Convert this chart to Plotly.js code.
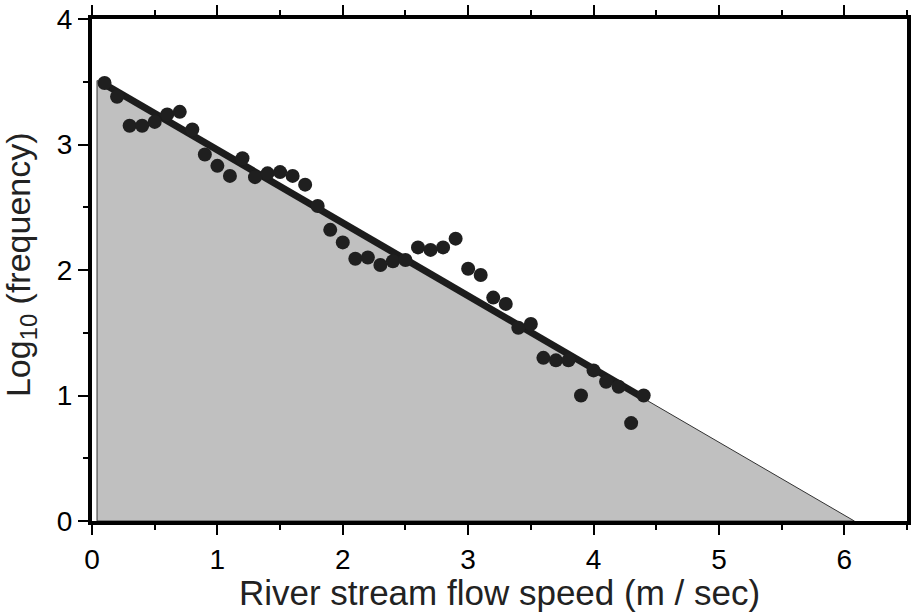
<!DOCTYPE html>
<html>
<head>
<meta charset="utf-8">
<script src="https://cdn.plot.ly/plotly-3.0.1.min.js"></script>
<style>html,body{margin:0;padding:0;background:#fff;}#chart{width:911px;height:612px;}</style>
</head>
<body>
<div id="chart"></div>
<script>
// Observed data: flow speed (m/sec) and log10(frequency)
const speed = [0.1,0.2,0.3,0.4,0.5,0.6,0.7,0.8,0.9,1.0,1.1,1.2,1.3,1.4,1.5,1.6,1.7,1.8,1.9,2.0,2.1,2.2,2.3,2.4,2.5,2.6,2.7,2.8,2.9,3.0,3.1,3.2,3.3,3.4,3.5,3.6,3.7,3.8,3.9,4.0,4.1,4.2,4.3,4.4];
const logFreq = [3.49,3.38,3.15,3.15,3.18,3.24,3.26,3.12,2.92,2.83,2.75,2.89,2.74,2.77,2.78,2.75,2.68,2.51,2.32,2.22,2.09,2.10,2.04,2.07,2.08,2.18,2.16,2.18,2.25,2.01,1.96,1.78,1.73,1.54,1.57,1.30,1.28,1.28,1.00,1.20,1.11,1.07,0.78,1.00];
// Fitted regression line end points
const fitX = [0.1, 4.4];
const fitY = [3.48, 0.98];
// Extrapolated model area (shaded)
const areaX = [0.04, 0.04, 6.08, 0.04];
const areaY = [0, 3.51, 0, 0];

const xTickVals = [0,1,2,3,4,5,6];
const yTickVals = [0,1,2,3,4];

const font = "Liberation Sans, Arial, Helvetica, sans-serif";

const traces = [
  {x: areaX, y: areaY, type: 'scatter', mode: 'lines', fill: 'toself',
   fillcolor: '#c0c0c0', line: {color: '#333', width: 1}, hoverinfo: 'skip'},
  {x: fitX, y: fitY, type: 'scatter', mode: 'lines',
   line: {color: '#1c1c1c', width: 7}},
  {x: speed, y: logFreq, type: 'scatter', mode: 'markers',
   marker: {color: '#1f1f1f', size: 14, line: {width: 0}}}
];

function axisBase() {
  return {
    showgrid: false, zeroline: false,
    showline: true, linecolor: '#000', linewidth: 4, mirror: 'allticks',
    ticks: 'outside', ticklen: 10, tickwidth: 2, tickcolor: '#000',
    tickfont: {family: font, size: 28, color: '#000'},
    minor: {ticks: 'outside', ticklen: 5, tickwidth: 2, tickcolor: '#000', dtick: 0.5, showgrid: false}
  };
}

const layout = {
  width: 911, height: 612,
  margin: {l: 92, r: 4, t: 19, b: 91},
  paper_bgcolor: '#fff', plot_bgcolor: '#fff',
  showlegend: false,
  xaxis: Object.assign(axisBase(), {
    range: [0, 6.5], tickvals: xTickVals, ticktext: xTickVals.map(String),
    title: {text: 'River stream flow speed (m / sec)', font: {family: font, size: 35, color: '#222'}, standoff: 1}
  }),
  yaxis: Object.assign(axisBase(), {
    range: [0, 4], tickvals: yTickVals, ticktext: yTickVals.map(String)
  }),
  annotations: [{
    text: 'Log<sub>10</sub> (frequency)', xref: 'paper', yref: 'paper',
    x: -0.087, y: 0.51, xanchor: 'center', yanchor: 'middle', textangle: -90,
    showarrow: false, font: {family: font, size: 34, color: '#222'}
  }]
};

Plotly.newPlot('chart', traces, layout, {displayModeBar: false, staticPlot: true});
</script>
</body>
</html>
